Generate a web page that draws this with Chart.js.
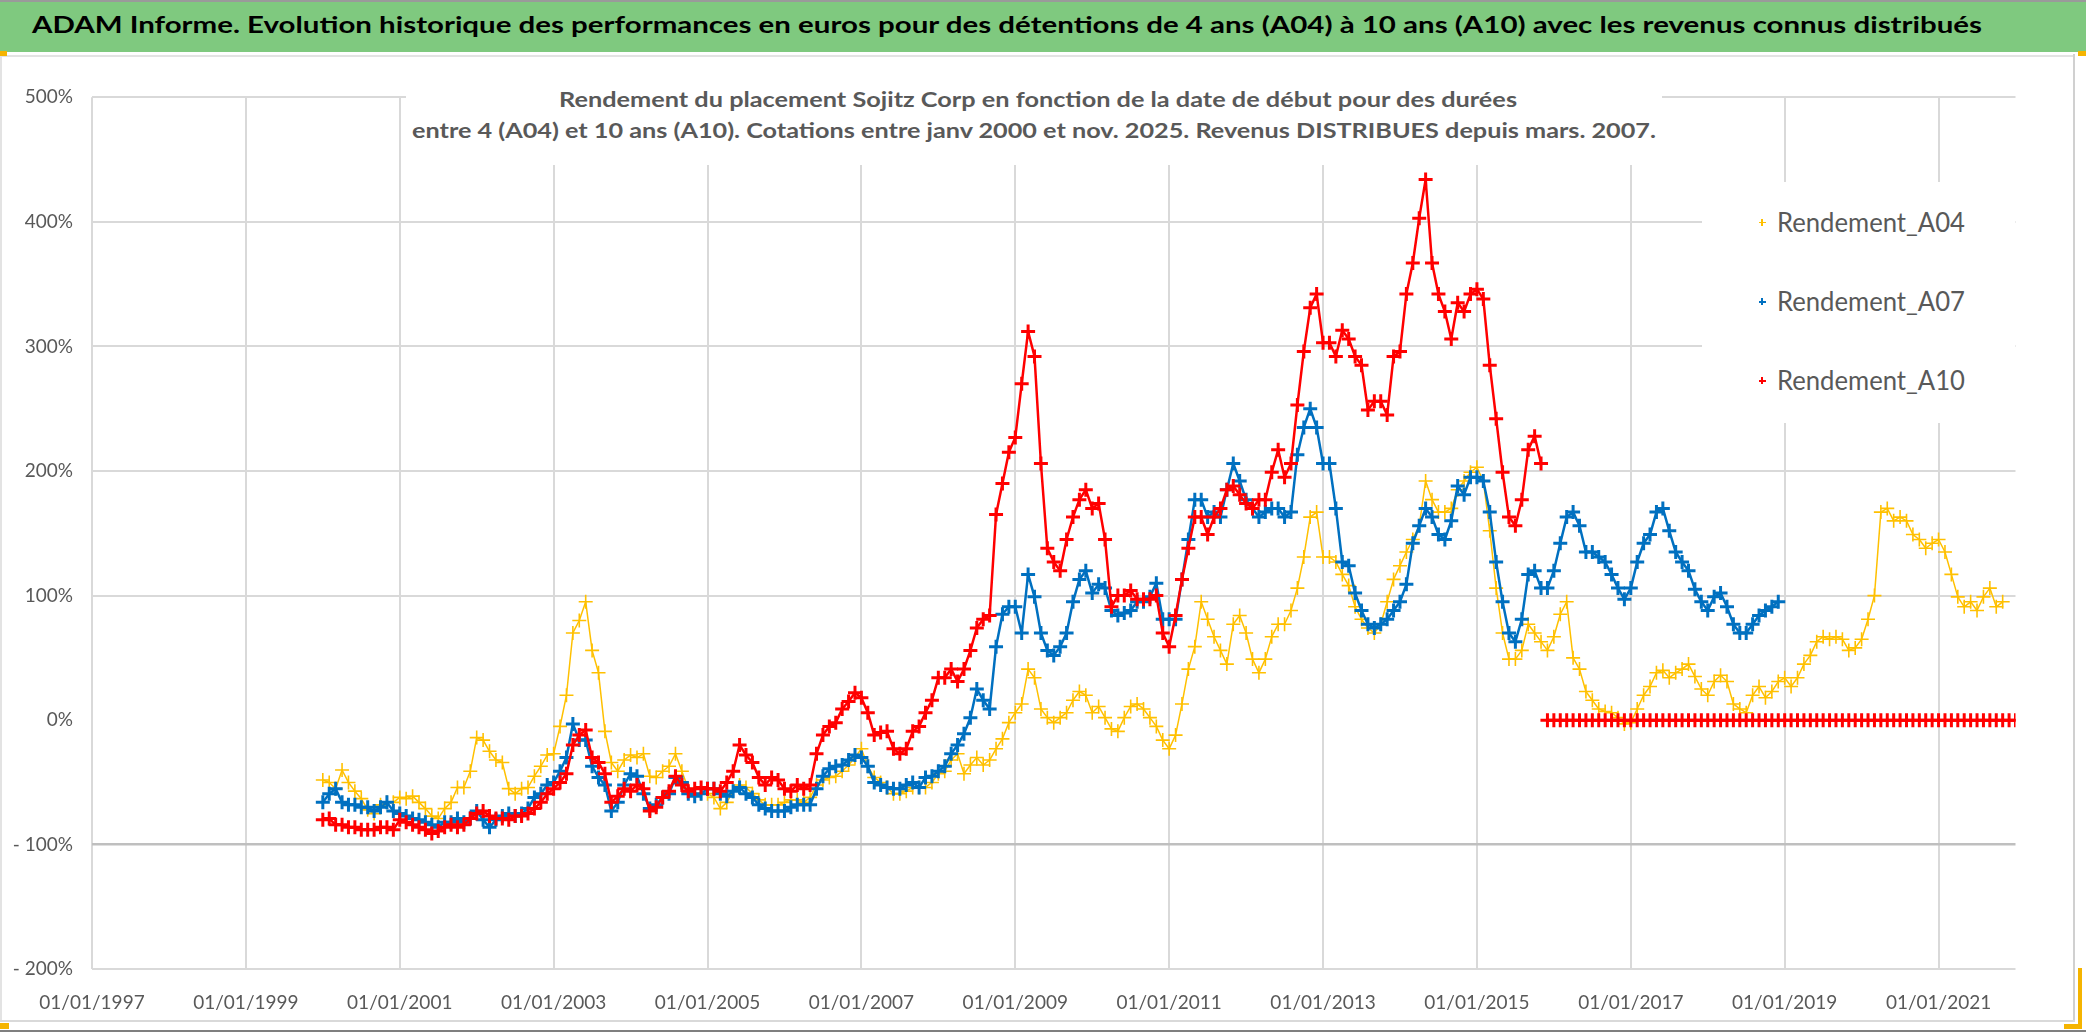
<!DOCTYPE html>
<html>
<head>
<meta charset="utf-8">
<script src="https://cdn.jsdelivr.net/npm/chart.js@4/dist/chart.umd.min.js"></script>
<style>
html,body{margin:0;padding:0;background:#fff;}
#wrap{position:relative;width:2086px;height:1032px;overflow:hidden;background:#fff;font-family:Lato,'Open Sans',sans-serif;}
#c{position:absolute;left:0;top:0;}
#bar{position:absolute;left:0;top:0;width:2086px;height:52px;background:#7fc97f;border-top:2px solid #9a9a9a;box-sizing:border-box;}
.txt{position:absolute;white-space:nowrap;display:inline-block;transform-origin:0 0;line-height:normal;}
#barText{left:32px;top:9.3px;font-weight:bold;font-size:22px;color:#000;}
#subBox{position:absolute;left:406px;top:76px;width:1256px;height:89px;background:#fff;}
.sub{font-weight:bold;font-size:21px;color:#595959;}
#legBox{position:absolute;left:1702px;top:182px;width:313px;height:241px;background:#fff;}
.leg{font-size:26px;color:#595959;}
.mk{position:absolute;}
.frameR{position:absolute;left:2073px;top:54px;width:2px;height:968px;background:#d0d0d0;}
.frameB{position:absolute;left:0;top:1020px;width:2075px;height:2px;background:#d9d9d9;}
.frameT{position:absolute;left:0;top:55px;width:2075px;height:2px;background:#e3e3e3;}
.frameL{position:absolute;left:0;top:54px;width:2px;height:968px;background:#e3e3e3;}
.outerB{position:absolute;left:0;top:1030px;width:2086px;height:2px;background:#7f7f7f;}
.hdl{position:absolute;background:#f5b400;}
</style>
</head>
<body>
<div id="wrap">
  <canvas id="c" width="2086" height="1032"></canvas>
  <div class="frameT"></div><div class="frameL"></div><div class="frameR"></div><div class="frameB"></div><div class="outerB"></div>
  <div id="bar"><span class="txt" id="barText">ADAM Informe. Evolution historique des performances en euros pour des détentions de 4 ans (A04) à 10 ans (A10) avec les revenus connus distribués</span></div>
  <div class="hdl" style="left:0;top:51px;width:7px;height:5px"></div>
  <div class="hdl" style="left:2078px;top:51px;width:8px;height:5px"></div>
  <div class="hdl" style="left:0;top:1023px;width:9px;height:6px"></div>
  <div class="hdl" style="left:2064px;top:1024px;width:14px;height:5px"></div>
  <div class="hdl" style="left:2078px;top:968px;width:4px;height:61px"></div>
  <div id="subBox"></div>
  <span class="txt sub" id="sub1" style="left:559px;top:86.3px">Rendement du placement Sojitz Corp en fonction de la date de début pour des durées</span>
  <span class="txt sub" id="sub2" style="left:412px;top:117.3px">entre 4 (A04) et 10 ans (A10). Cotations entre janv 2000 et nov. 2025. Revenus DISTRIBUES depuis mars. 2007.</span>
  <div id="legBox"></div>
</div>
<script>
// ---------------- DATA (monthly readings, month 0 = Jan 2000) ----------------
const START_YEAR = 2000;
const SERIES_LABELS = ['Rendement_A04', 'Rendement_A07', 'Rendement_A10'];
const X_TICK_YEARS = [1997, 1999, 2001, 2003, 2005, 2007, 2009, 2011, 2013, 2015, 2017, 2019, 2021];
const Y_TICKS = [-200, -100, 0, 100, 200, 300, 400, 500];

const A04 = [
 -48,-50,-55,-40,-50,-57,-63,-72,-75,-68,-66,-66,
 -62,-63,-61,-66,-71,-77,-79,-71,-66,-54,-54,-41,
 -14,-16,-25,-32,-34,-55,-59,-55,-54,-45,-37,-28,
 -27,-5,20,70,80,95,56,38,-9,-34,-41,-32,
 -28,-30,-27,-45,-46,-41,-37,-27,-41,-55,-59,-59,
 -59,-62,-71,-66,-57,-52,-54,-59,-64,-68,-68,-68,
 -66,-64,-64,-66,-62,-52,-48,-46,-45,-41,-36,-30,
 -23,-37,-46,-50,-54,-59,-59,-57,-54,-54,-54,-50,
 -43,-41,-32,-27,-43,-36,-30,-36,-32,-23,-15,-2,
 6,13,41,34,9,2,-2,2,6,16,23,20,
 6,11,2,-7,-9,2,11,13,9,2,-5,-16,
 -23,-12,13,41,59,95,81,67,56,45,77,84,
 70,49,38,49,67,77,77,88,106,131,163,167,
 131,131,127,117,108,91,81,74,70,77,95,113,
 124,135,145,156,192,177,167,167,170,185,192,199,
 203,192,152,106,70,49,49,56,77,70,63,56,
 67,85,95,50,41,23,16,9,7,6,2,-3,
 -2,9,20,27,38,40,34,38,41,45,35,25,
 20,31,36,31,13,9,6,20,27,18,23,31,
 34,27,34,45,52,63,67,65,67,65,56,58,
 65,81,100,167,170,160,163,160,149,145,138,142,
 145,135,117,99,91,95,88,99,106,91,95
];

const A07 = [
 -66,-59,-55,-66,-68,-68,-70,-70,-73,-70,-66,-73,
 -75,-77,-79,-80,-82,-84,-86,-82,-82,-79,-82,-79,
 -73,-80,-86,-80,-77,-75,-77,-75,-71,-62,-59,-52,
 -50,-41,-30,-3,-16,-16,-37,-46,-52,-73,-66,-52,
 -43,-45,-59,-71,-68,-62,-59,-46,-50,-59,-61,-59,
 -55,-55,-59,-61,-57,-54,-59,-62,-68,-71,-73,-73,
 -73,-70,-68,-68,-68,-55,-45,-39,-37,-36,-32,-28,
 -30,-37,-50,-52,-54,-55,-55,-52,-50,-54,-46,-45,
 -41,-37,-27,-20,-11,2,25,16,9,59,85,91,
 91,70,117,99,70,56,52,59,70,95,113,120,
 102,109,106,88,84,86,88,95,95,99,110,81,
 81,81,113,145,177,177,163,167,163,185,206,192,
 177,170,163,167,170,170,163,167,213,235,250,235,
 206,206,170,127,124,102,88,77,74,77,81,88,
 95,109,142,156,170,163,149,145,160,188,181,195,
 195,192,167,127,95,70,63,81,117,120,106,106,
 120,142,163,167,156,135,135,131,127,117,106,97,
 106,127,142,149,167,170,152,135,127,120,105,95,
 88,99,102,91,77,70,70,77,84,88,91,95
];

const A10 = [
 -80,-79,-84,-84,-86,-86,-88,-88,-88,-86,-86,-88,
 -80,-82,-84,-86,-88,-91,-89,-86,-84,-86,-84,-79,
 -75,-73,-77,-79,-79,-80,-77,-77,-75,-71,-66,-59,
 -55,-50,-43,-20,-12,-8,-30,-34,-43,-66,-61,-55,
 -57,-52,-55,-73,-70,-62,-57,-45,-52,-57,-55,-54,
 -55,-55,-57,-50,-41,-20,-28,-34,-46,-52,-46,-48,
 -55,-57,-52,-55,-52,-27,-12,-5,-2,9,15,22,
 18,6,-12,-10,-9,-23,-27,-23,-9,-5,6,16,
 34,34,41,31,41,56,74,81,84,165,190,215,
 227,270,312,292,206,138,127,120,145,163,177,185,
 170,174,145,91,100,100,104,97,97,97,100,70,
 59,84,113,138,163,163,149,163,170,185,188,181,
 174,170,177,177,199,217,195,206,253,296,331,342,
 303,303,292,313,306,292,285,249,256,256,245,292,
 296,342,367,403,434,367,342,328,306,335,328,342,
 346,338,285,242,199,163,156,177,217,228,206
];
// A10 after Nov 2015: no 10-year result yet, plotted as 0 (Dec 2015 .. Jan 2022)
const A10_ZERO_START = 191;
const A10_ZERO = [
 0,0,0,0,0,0,0,0,0,0,0,0,
 0,0,0,0,0,0,0,0,0,0,0,0,
 0,0,0,0,0,0,0,0,0,0,0,0,
 0,0,0,0,0,0,0,0,0,0,0,0,
 0,0,0,0,0,0,0,0,0,0,0,0,
 0,0,0,0,0,0,0,0,0,0,0,0,
 0,0
];

const COLORS = ['#FFC000', '#0070C0', '#FF0000'];

// ---------------- BUILD ----------------
function toPts(arr, startM) {
  return arr.map((v, i) => ({ x: START_YEAR + (startM + i) / 12, y: v }));
}
const a10pts = toPts(A10, 0)
  .concat([{ x: START_YEAR + (A10.length - 0.5) / 12, y: null }])
  .concat(toPts(A10_ZERO, A10_ZERO_START));

function ds(label, data, color, order, pr, pbw, bw) {
  return {
    label, data, order,
    showLine: true, spanGaps: false,
    borderColor: color, backgroundColor: color,
    borderWidth: bw, borderJoinStyle: 'round', borderCapStyle: 'round',
    pointStyle: 'cross', pointRadius: pr, pointBorderWidth: pbw,
    pointBorderColor: color, pointBackgroundColor: color,
    pointHoverRadius: pr
  };
}

const datasets = [
  ds(SERIES_LABELS[0], toPts(A04, 0), COLORS[0], 3, 7, 1.6, 1.5),
  ds(SERIES_LABELS[1], toPts(A07, 0), COLORS[1], 2, 7, 3, 2.5),
  ds(SERIES_LABELS[2], a10pts, COLORS[2], 1, 7, 3, 2.5)
];

const TICK_FONT = { family: 'Lato', size: 19 };
const TICK_COLOR = '#595959';

new Chart(document.getElementById('c').getContext('2d'), {
  type: 'scatter',
  data: { datasets },
  options: {
    responsive: false,
    animation: false,
    events: [],
    layout: { padding: { left: 0, top: 97.3, right: 70.5, bottom: 0 } },
    plugins: { legend: { display: false }, tooltip: { enabled: false }, title: { display: false } },
    scales: {
      x: {
        type: 'linear', min: 1997, max: 2022,
        afterBuildTicks: (s) => { s.ticks = X_TICK_YEARS.map(v => ({ value: v })); },
        afterFit: (s) => { s.height = 1032 - 969.3; },
        ticks: {
          autoSkip: false, maxRotation: 0, minRotation: 0,
          padding: 22, font: TICK_FONT, color: TICK_COLOR,
          callback: (v) => '01/01/' + v
        },
        grid: { color: '#d9d9d9', lineWidth: 2, drawTicks: false },
        border: { display: false }
      },
      y: {
        min: -200, max: 500,
        afterBuildTicks: (s) => { s.ticks = Y_TICKS.map(v => ({ value: v })); },
        afterFit: (s) => { s.width = 92; },
        ticks: {
          padding: 19, font: TICK_FONT, color: TICK_COLOR,
          callback: (v) => v < 0 ? '- ' + (-v) + '%' : v + '%'
        },
        grid: {
          drawTicks: false,
          color: (c) => c.tick && c.tick.value === 0 ? 'rgba(0,0,0,0)' : (c.tick && c.tick.value === -100 ? '#bfbfbf' : '#d9d9d9'),
          lineWidth: (c) => c.tick && c.tick.value === -100 ? 2.5 : 2
        },
        border: { display: false }
      }
    }
  }
});

// ---------------- LEGEND (HTML) ----------------
const wrap = document.getElementById('wrap');
const LEG_Y = [222.7, 301.7, 380.7];
SERIES_LABELS.forEach((lab, i) => {
  const cy = LEG_Y[i], cx = 1762, h = 3.5, lw = i === 0 ? 1.4 : 2;
  const hz = document.createElement('div');
  hz.className = 'mk';
  hz.style.cssText = `left:${cx - h}px;top:${cy - lw / 2}px;width:${2 * h}px;height:${lw}px;background:${COLORS[i]}`;
  const vt = document.createElement('div');
  vt.className = 'mk';
  vt.style.cssText = `left:${cx - lw / 2}px;top:${cy - h}px;width:${lw}px;height:${2 * h}px;background:${COLORS[i]}`;
  wrap.appendChild(hz); wrap.appendChild(vt);
  const t = document.createElement('span');
  t.className = 'txt leg';
  t.id = 'leg' + i;
  t.textContent = lab;
  t.style.left = '1777px';
  t.style.top = (cy + 0.358 * 26 - 0.987 * 26) + 'px';
  wrap.appendChild(t);
});

// fit text widths to the reference (Calibri is narrower than Lato)
function fitW(id, target) {
  const el = document.getElementById(id);
  const w = el.getBoundingClientRect().width;
  if (w > 0) el.style.transform = 'scaleX(' + (target / w) + ')';
}
fitW('barText', 1950);
fitW('sub1', 958);
fitW('sub2', 1244);
fitW('leg0', 188); fitW('leg1', 188); fitW('leg2', 188);
</script>
</body>
</html>
